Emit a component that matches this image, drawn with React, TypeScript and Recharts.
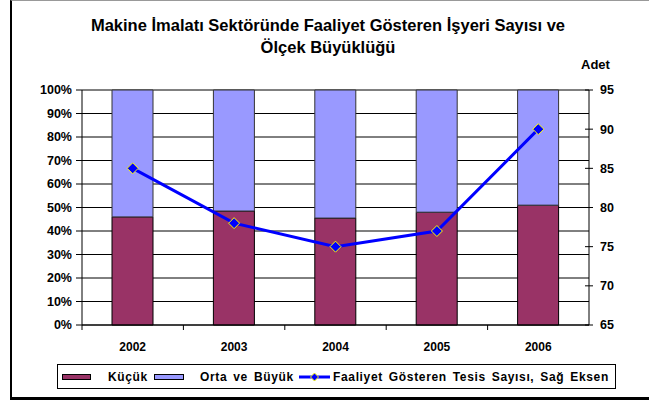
import React from "react";
import {
  ComposedChart,
  Bar,
  Line,
  XAxis,
  YAxis,
  CartesianGrid,
  Legend,
} from "recharts";

// values
const years = ["2002", "2003", "2004", "2005", "2006"];
const kucuk = [46, 48.5, 45.5, 48, 51];
const ortaBuyuk = [54, 51.5, 54.5, 52, 49];
const tesisSayisi = [85, 78, 75, 77, 90];
const leftTicks = [0, 10, 20, 30, 40, 50, 60, 70, 80, 90, 100];
const rightTicks = [65, 70, 75, 80, 85, 90, 95];

const data = years.map((year, i) => ({
  year,
  kucuk: kucuk[i],
  orta: ortaBuyuk[i],
  tesis: tesisSayisi[i],
}));

const FONT = "'Liberation Sans', Arial, sans-serif";

function Diamond(props: any) {
  const { cx, cy } = props;
  if (cx == null || cy == null) return null;
  const r = 5.5;
  return (
    <polygon
      points={`${cx},${cy - r} ${cx + r},${cy} ${cx},${cy + r} ${cx - r},${cy}`}
      fill="#0000FF"
      stroke="#FFFF00"
      strokeWidth={1}
    />
  );
}

function YearTick(props: any) {
  const { x, y, payload } = props;
  const off = payload && payload.offset != null ? payload.offset : 50.7;
  const axisY = y - 17;
  return (
    <g>
      <line x1={x - off} y1={axisY} x2={x - off} y2={axisY + 5} stroke="#000" />
      <text
        x={x}
        y={y}
        dy="0.71em"
        textAnchor="middle"
        fill="#000"
        fontSize={12}
        fontWeight="bold"
        fontFamily={FONT}
      >
        {payload.value}
      </text>
    </g>
  );
}

function RightTick(props: any) {
  const { x, y, payload } = props;
  const axisX = x - 11;
  return (
    <g>
      <line x1={axisX - 4} y1={y} x2={axisX + 4} y2={y} stroke="#000" />
      <text
        x={x}
        y={y}
        dy="0.355em"
        textAnchor="start"
        fill="#000"
        fontSize={12.5}
        fontWeight="bold"
        fontFamily={FONT}
      >
        {payload.value}
      </text>
    </g>
  );
}

function ChartLegend() {
  const txt: React.CSSProperties = {
    position: "absolute",
    top: 5,
    fontSize: 12,
    fontWeight: "bold",
    fontFamily: FONT,
    lineHeight: "14px",
    whiteSpace: "nowrap",
    color: "#000",
    letterSpacing: 0.65,
    wordSpacing: 2,
  };
  return (
    <div
      style={{
        position: "relative",
        width: 559,
        height: 25,
        border: "1px solid #000",
        boxSizing: "border-box",
        background: "#fff",
      }}
    >
      <div style={{ position: "absolute", left: 4, top: 9, width: 29, height: 6, background: "#993366", border: "1px solid #000", boxSizing: "border-box" }} />
      <span style={{ ...txt, left: 50 }}>Küçük</span>
      <div style={{ position: "absolute", left: 96, top: 9, width: 30, height: 6, background: "#9999FF", border: "1px solid #000", boxSizing: "border-box" }} />
      <span style={{ ...txt, left: 142 }}>Orta ve Büyük</span>
      <svg style={{ position: "absolute", left: 240, top: 5 }} width={33} height={14}>
        <line x1={1} y1={7} x2={32} y2={7} stroke="#0000FF" strokeWidth={3} />
        <polygon points="16.5,3 20.5,7 16.5,11 12.5,7" fill="#0000FF" stroke="#FFFF00" strokeWidth={1} />
      </svg>
      <span style={{ ...txt, left: 275 }}>Faaliyet Gösteren Tesis Sayısı, Sağ Eksen</span>
    </div>
  );
}

export default function App() {
  return (
    <div
      style={{
        position: "absolute",
        left: 0,
        top: 0,
        width: 649,
        height: 401,
        background: "#fff",
        fontFamily: FONT,
      }}
    >
      <div
        style={{
          position: "absolute",
          left: 10,
          top: 0,
          width: 639,
          height: 400,
          borderLeft: "2px solid #000",
          borderTop: "1px solid #999",
          borderBottom: "3px solid #000",
          boxSizing: "border-box",
        }}
      />
      <div
        style={{
          position: "absolute",
          left: 7,
          top: 14,
          width: 642,
          textAlign: "center",
          fontSize: 16.5,
          fontWeight: "bold",
          lineHeight: "22px",
          color: "#000",
        }}
      >
        Makine İmalatı Sektöründe Faaliyet Gösteren İşyeri Sayısı ve
        <br />
        Ölçek Büyüklüğü
      </div>
      <div
        style={{
          position: "absolute",
          left: 581,
          top: 58,
          fontSize: 13,
          fontWeight: "bold",
          lineHeight: "14px",
          color: "#000",
        }}
      >
        Adet
      </div>
      <div style={{ position: "absolute", left: 0, top: 0 }}>
        <ComposedChart
          width={649}
          height={401}
          data={data}
          margin={{ top: 90, right: 10, bottom: 46, left: 12 }}
          barSize={41}
        >
          <CartesianGrid
            yAxisId="left"
            vertical={false}
            stroke="#000"
            strokeWidth={1}
          />
          <XAxis
            dataKey="year"
            height={30}
            tickSize={5}
            tickMargin={12}
            tickLine={false}
            axisLine={{ stroke: "#000" }}
            tick={<YearTick />}
            interval={0}
          />
          <YAxis
            yAxisId="left"
            orientation="left"
            width={70}
            domain={[0, 100]}
            ticks={leftTicks}
            tickFormatter={(v: number) => `${v}%`}
            tickSize={6}
            tickMargin={4}
            axisLine={{ stroke: "#000" }}
            tickLine={{ stroke: "#000" }}
            tick={{ fill: "#000", fontSize: 12.5, fontWeight: "bold", fontFamily: FONT }}
            interval={0}
          />
          <YAxis
            yAxisId="right"
            orientation="right"
            width={50}
            domain={[65, 95]}
            ticks={rightTicks}
            tickSize={4}
            tickMargin={7}
            tickLine={false}
            axisLine={{ stroke: "#000" }}
            tick={<RightTick />}
            interval={0}
          />
          <Bar
            yAxisId="left"
            dataKey="kucuk"
            stackId="a"
            fill="#993366"
            stroke="#000"
            strokeWidth={1}
            isAnimationActive={false}
          />
          <Bar
            yAxisId="left"
            dataKey="orta"
            stackId="a"
            fill="#9999FF"
            stroke="#333"
            strokeWidth={1}
            isAnimationActive={false}
          />
          <Line
            yAxisId="right"
            dataKey="tesis"
            stroke="#0000FF"
            strokeWidth={3}
            dot={<Diamond />}
            activeDot={false}
            isAnimationActive={false}
          />
          <Legend
            layout="horizontal"
            verticalAlign="middle"
            align="center"
            content={<ChartLegend />}
            wrapperStyle={{ position: "absolute", left: 57, top: 364, width: 559, height: 25 }}
          />
        </ComposedChart>
      </div>
    </div>
  );
}
